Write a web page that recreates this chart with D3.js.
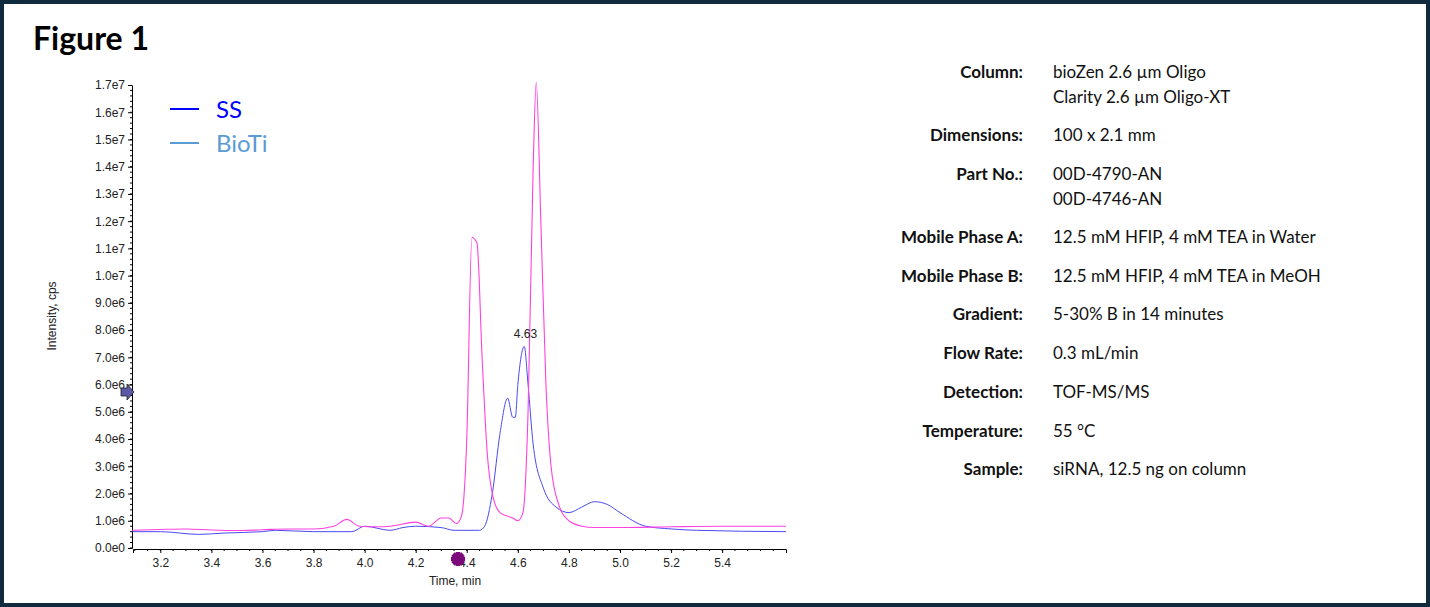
<!DOCTYPE html>
<html><head><meta charset="utf-8">
<script src="https://cdn.jsdelivr.net/npm/d3@7"></script>
<style>
body{margin:0;background:#fff;}
svg{display:block;font-family:"Liberation Sans",Arial,sans-serif;}
</style></head>
<body>
<svg id="chart" width="1430" height="607"></svg>
<script>
// time (min), intensity (cps)
var pinkT = [3.09,3.2,3.3,3.4,3.5,3.6,3.7,3.8,3.88,3.93,3.98,4.05,4.1,4.2,4.25,4.3,4.33,4.36,4.38,4.4,4.42,4.44,4.46,4.48,4.5,4.53,4.58,4.6,4.62,4.64,4.66,4.672,4.69,4.71,4.73,4.76,4.8,4.85,4.9,5.0,5.2,5.4,5.65]
var pinkI = [0.65,0.68,0.7,0.66,0.64,0.67,0.7,0.7,0.8,1.05,0.8,0.78,0.8,0.95,0.8,1.1,1.1,0.9,1.2,4.0,11.4,11.2,7.0,3.5,2.0,1.3,1.1,1.0,1.3,5.0,14.0,17.1,12.0,6.0,3.0,1.6,1.0,0.8,0.75,0.75,0.78,0.8,0.8]
var blueT = [3.09,3.2,3.35,3.45,3.6,3.65,3.8,3.95,4.0,4.1,4.15,4.2,4.3,4.35,4.45,4.47,4.5,4.53,4.56,4.58,4.59,4.6,4.625,4.64,4.66,4.7,4.75,4.8,4.85,4.9,4.95,5.0,5.1,5.2,5.3,5.65]
var blueI = [0.6,0.6,0.5,0.55,0.6,0.65,0.6,0.6,0.8,0.65,0.75,0.8,0.75,0.65,0.65,0.8,2.0,4.2,5.5,4.8,4.8,6.0,7.4,6.0,3.8,2.2,1.5,1.3,1.5,1.7,1.6,1.3,0.8,0.7,0.65,0.6]
var xTicks = [3.2,3.4,3.6,3.8,4.0,4.2,4.4,4.6,4.8,5.0,5.2,5.4]
var yTicks = d3.range(0,18).map(function(d){ return d*1e6 })
var legendNames = ["SS","BioTi"]
var legendColors = ["#0000ff","#5b9bd5"]
var infoLabels = ["Column:","Dimensions:","Part No.:","Mobile Phase A:","Mobile Phase B:","Gradient:","Flow Rate:","Detection:","Temperature:","Sample:"]
var infoValues = [["bioZen 2.6 µm Oligo","Clarity 2.6 µm Oligo-XT"],["100 x 2.1 mm"],["00D-4790-AN","00D-4746-AN"],["12.5 mM HFIP, 4 mM TEA in Water"],["12.5 mM HFIP, 4 mM TEA in MeOH"],["5-30% B in 14 minutes"],["0.3 mL/min"],["TOF-MS/MS"],["55 °C"],["siRNA, 12.5 ng on column"]]
var infoY = [72,135,174,237,276,314,353,392,431,469]

var svg = d3.select("#chart")
svg.append("rect").attr("x",2).attr("y",2).attr("width",1426).attr("height",603)
  .attr("fill","#fff").attr("stroke","#0f2b3d").attr("stroke-width",4)
svg.append("text").attr("x",33).attr("y",50).attr("font-family","Lato, sans-serif")
  .attr("font-weight","bold").attr("font-size",32).attr("fill","#000").text("Figure 1")

var x = d3.scaleLinear().domain([3.093,5.65]).range([133,786])
var y = d3.scaleLinear().domain([0,17e6]).range([548,85])

function fmt(v){
  if(v===0) return "0.0e0"
  var e = Math.floor(Math.log10(v)+1e-9)
  return (v/Math.pow(10,e)).toFixed(1)+"e"+e
}

var yAxis = svg.append("g").attr("transform","translate(132,0)")
  .call(d3.axisLeft(y).tickValues(yTicks).tickFormat(fmt).tickSize(4))
yAxis.selectAll(".tick text").attr("font-size",12).attr("fill","#222")
yAxis.append("g").selectAll("line").data(d3.range(0,17e6,2e5)).join("line")
  .attr("x1",-2).attr("x2",0).attr("y1",d=>y(d)).attr("y2",d=>y(d)).attr("stroke","#000")
var xAxis = svg.append("g").attr("transform","translate(0,549)")
  .call(d3.axisBottom(x).tickValues(xTicks).tickFormat(d3.format(".1f")).tickSize(4))
xAxis.selectAll(".tick text").attr("font-size",12).attr("fill","#222").attr("dy","0.9em")
xAxis.append("g").selectAll("line").data(d3.range(3.1,5.65,0.05)).join("line")
  .attr("x1",d=>x(d)).attr("x2",d=>x(d)).attr("y1",0).attr("y2",2).attr("stroke","#000")
svg.selectAll(".domain").attr("stroke","#000")

svg.append("text").attr("transform","translate(56,316) rotate(-90)").attr("text-anchor","middle")
  .attr("font-size",12).attr("fill","#222").text("Intensity, cps")
svg.append("text").attr("x",455).attr("y",585).attr("text-anchor","middle")
  .attr("font-size",12).attr("fill","#222").text("Time, min")

var line = d3.line().x(d=>x(d[0])).y(d=>y(d[1]*1e6)).curve(d3.curveMonotoneX)
svg.append("path").datum(d3.zip(blueT,blueI)).attr("d",line)
  .attr("fill","none").attr("stroke","#4a4af0").attr("stroke-width",1)
svg.append("path").datum(d3.zip(pinkT,pinkI)).attr("d",line)
  .attr("fill","none").attr("stroke","#ff40e0").attr("stroke-width",1.1)

svg.append("text").attr("x",x(4.63)).attr("y",y(7.4e6)-8).attr("text-anchor","middle")
  .attr("font-size",12).attr("fill","#222").text("4.63")

// markers
svg.append("path").attr("d",d3.symbol(d3.symbolCross,110)())
  .attr("transform","translate(458,559) rotate(45)").attr("fill","#7a0a7a")
svg.append("path").attr("d",d3.symbol(d3.symbolCross,110)())
  .attr("transform","translate(458,559)").attr("fill","#7a0a7a")
svg.append("path").attr("d","M121,388 h6 v-4 l7,8 l-7,8 v-4 h-6 z")
  .attr("fill","#5a5aa8").attr("stroke","#222").attr("stroke-width",0.8)

// legend
var lg = svg.append("g").selectAll("g").data(legendNames).join("g")
  .attr("transform",(d,i)=>"translate(170,"+(109+i*34)+")")
lg.append("line").attr("x1",0).attr("x2",29).attr("stroke",(d,i)=>legendColors[i]).attr("stroke-width",2)
lg.append("text").attr("x",46).attr("y",9).attr("font-family","Lato, sans-serif")
  .attr("font-size",24).attr("fill",(d,i)=>legendColors[i]).text(d=>d)

// info panel
var info = svg.append("g").attr("font-family","Lato, sans-serif").attr("font-size",17).attr("fill","#111")
info.selectAll("text.lab").data(infoLabels).join("text").attr("class","lab")
  .attr("x",1023).attr("y",(d,i)=>infoY[i]+6).attr("text-anchor","end").attr("font-weight","bold").text(d=>d)
infoValues.forEach(function(vals,i){
  vals.forEach(function(v,j){
    info.append("text").attr("x",1053).attr("y",infoY[i]+6+j*25).text(v)
  })
})
</script>
</body></html>
